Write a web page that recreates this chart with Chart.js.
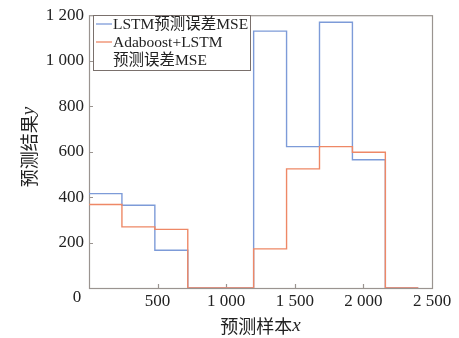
<!DOCTYPE html>
<html>
<head>
<meta charset="utf-8">
<script src="https://cdn.jsdelivr.net/npm/chart.js@4/dist/chart.umd.min.js"></script>
<style>
  body { margin: 0; background: #fff; }
  canvas { display: block; }
</style>
</head>
<body>
<canvas id="mseChart" width="459" height="338"></canvas>
<script>
// bin edges of the sample axis (left edge of every step, last one closes the run)
const binEdges = [0, 240, 480, 720, 960, 1200, 1440, 1680, 1920, 2160, 2400];
// step heights, one per bin (last value repeats to close the step)
const lstmMse = [415, 364, 166, 0, 0, 1130, 622, 1169, 564, 0, 0];
const adaLstmMse = [367, 269, 258, 0, 0, 172, 524, 622, 597, 0, 0];
const xTicks = [0, 500, 1000, 1500, 2000, 2500];
const yTicks = [0, 200, 400, 600, 800, 1000, 1200];

const blue = '#7d9bd8';
const red = '#ee8866';
const frameColor = '#9a9490';
const latin = "'Liberation Serif', 'Noto Sans CJK SC', serif";

// thousands with a space, like "1 200"
function fmt(v) {
  return String(v).replace(/\B(?=(\d{3})+(?!\d))/g, ' ');
}

function toPoints(vals) {
  return binEdges.map((x, i) => ({ x: x, y: vals[i] }));
}

// frame and inward ticks go under the lines
const frame = {
  id: 'frame',
  beforeDatasetsDraw(chart) {
    const ctx = chart.ctx;
    const a = chart.chartArea;
    const xs = chart.scales.x;
    const ys = chart.scales.y;
    ctx.save();
    ctx.strokeStyle = frameColor;
    ctx.lineWidth = 1.2;
    ctx.strokeRect(a.left + 0.5, a.top + 0.5, a.right - a.left, a.bottom - a.top);

    ctx.beginPath();
    xTicks.slice(1, -1).forEach(v => {
      const px = Math.round(xs.getPixelForValue(v)) + 0.5;
      ctx.moveTo(px, a.bottom);
      ctx.lineTo(px, a.bottom - 4);
    });
    yTicks.slice(1, -1).forEach(v => {
      const py = Math.round(ys.getPixelForValue(v)) + 0.5;
      ctx.moveTo(a.left, py);
      ctx.lineTo(a.left + 4, py);
    });
    ctx.stroke();
    ctx.restore();
  }
};

// origin label, axis titles and the legend box
const decorations = {
  id: 'decorations',
  afterDraw(chart) {
    const ctx = chart.ctx;
    const a = chart.chartArea;
    ctx.save();

    // shared origin label
    ctx.fillStyle = '#222';
    ctx.font = '17px ' + latin;
    ctx.textAlign = 'center';
    ctx.textBaseline = 'middle';
    ctx.fillText('0', a.left - 12, a.bottom + 10);

    // x title: 预测样本 + italic x
    ctx.font = "18px 'Noto Sans CJK SC', sans-serif";
    const xMain = '预测样本';
    const wMain = ctx.measureText(xMain).width;
    ctx.font = "italic 19px 'Liberation Serif', serif";
    const wVar = ctx.measureText('x').width;
    let startX = (a.left + a.right) / 2 - (wMain + wVar) / 2;
    ctx.textAlign = 'left';
    ctx.font = "18px 'Noto Sans CJK SC', sans-serif";
    ctx.fillText(xMain, startX, 326);
    ctx.font = "italic 19px 'Liberation Serif', serif";
    ctx.fillText('x', startX + wMain, 326);

    // y title rotated
    ctx.save();
    ctx.translate(29, 147);
    ctx.rotate(-Math.PI / 2);
    ctx.font = "18px 'Noto Sans CJK SC', sans-serif";
    const yMain = '预测结果';
    const wy = ctx.measureText(yMain).width;
    ctx.font = "italic 19px 'Liberation Serif', serif";
    const wyv = ctx.measureText('y').width;
    const sy = -(wy + wyv) / 2;
    ctx.font = "18px 'Noto Sans CJK SC', sans-serif";
    ctx.fillText(yMain, sy, 0);
    ctx.font = "italic 19px 'Liberation Serif', serif";
    ctx.fillText('y', sy + wy, 0);
    ctx.restore();

    // legend
    const lx = 93.5, ly = 15.5, lw = 157, lh = 55;
    ctx.fillStyle = '#fff';
    ctx.fillRect(lx, ly, lw, lh);
    ctx.strokeStyle = '#7a706c';
    ctx.lineWidth = 1;
    ctx.strokeRect(lx, ly, lw, lh);
    const items = [
      { color: blue, lines: ['LSTM预测误差MSE'], y: 24 },
      { color: red, lines: ['Adaboost+LSTM', '预测误差MSE'], y: 42 }
    ];
    ctx.font = '15.5px ' + latin;
    ctx.textBaseline = 'middle';
    items.forEach(it => {
      ctx.strokeStyle = it.color;
      ctx.lineWidth = 1.3;
      ctx.beginPath();
      ctx.moveTo(96, it.y);
      ctx.lineTo(112, it.y);
      ctx.stroke();
      ctx.fillStyle = '#222';
      it.lines.forEach((t, k) => ctx.fillText(t, 113, it.y + 1 + k * 18));
    });

    ctx.restore();
  }
};

new Chart(document.getElementById('mseChart').getContext('2d'), {
  type: 'line',
  data: {
    datasets: [
      {
        label: 'Adaboost+LSTM 预测误差MSE',
        data: toPoints(adaLstmMse),
        borderColor: red,
        borderWidth: 1.4,
        stepped: 'before',
        pointRadius: 0,
        fill: false
      },
      {
        label: 'LSTM预测误差MSE',
        data: toPoints(lstmMse),
        borderColor: blue,
        borderWidth: 1.4,
        stepped: 'before',
        pointRadius: 0,
        fill: false
      }
    ]
  },
  options: {
    responsive: false,
    animation: false,
    layout: { padding: { left: 0, right: 27, top: 14, bottom: 0 } },
    plugins: {
      legend: { display: false },
      tooltip: { enabled: false }
    },
    scales: {
      x: {
        type: 'linear',
        min: 0,
        max: 2500,
        afterFit: s => { s.height = 50; },
        afterBuildTicks: s => { s.ticks = xTicks.map(v => ({ value: v })); },
        grid: { display: false, drawTicks: false },
        border: { display: false },
        ticks: {
          maxRotation: 0,
          padding: 3,
          color: '#222',
          font: { family: latin, size: 17 },
          callback: v => (v === 0 ? '' : fmt(v))
        }
      },
      y: {
        type: 'linear',
        min: 0,
        max: 1200,
        afterFit: s => { s.width = 89; },
        afterBuildTicks: s => { s.ticks = yTicks.map(v => ({ value: v })); },
        grid: { display: false, drawTicks: false },
        border: { display: false },
        ticks: {
          padding: 5,
          color: '#222',
          font: { family: latin, size: 17 },
          callback: v => (v === 0 ? '' : fmt(v))
        }
      }
    }
  },
  plugins: [frame, decorations]
});
</script>
</body>
</html>
